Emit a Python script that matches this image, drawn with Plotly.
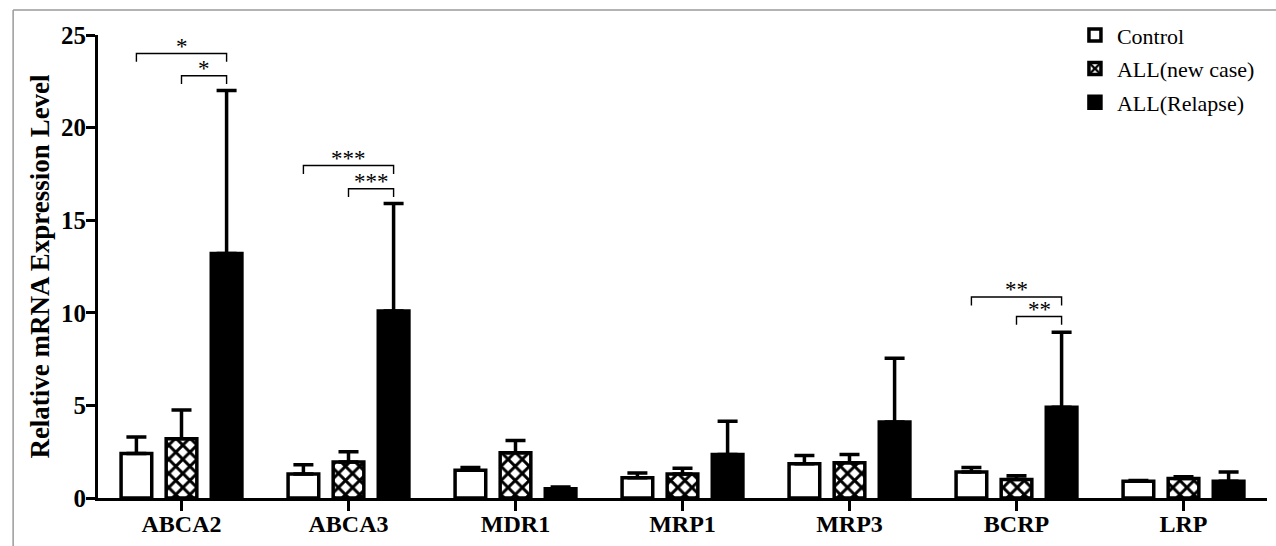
import plotly.graph_objects as go

categories = ["ABCA2", "ABCA3", "MDR1", "MRP1", "MRP3", "BCRP", "LRP"]
series_names = ["Control", "ALL(new case)", "ALL(Relapse)"]
control_mean = [2.4, 1.3, 1.5, 1.1, 1.85, 1.4, 0.9]
newcase_mean = [3.2, 1.95, 2.45, 1.3, 1.9, 1.0, 1.05]
relapse_mean = [13.2, 10.1, 0.5, 2.35, 4.1, 4.9, 0.9]
control_sd = [0.9, 0.5, 0.15, 0.25, 0.45, 0.25, 0.05]
newcase_sd = [1.55, 0.55, 0.65, 0.3, 0.45, 0.2, 0.1]
relapse_sd = [8.8, 5.8, 0.1, 1.8, 3.45, 4.05, 0.5]
y_ticks = [0, 5, 10, 15, 20, 25]

# significance comparisons: category index, group from, group to, bracket level, label
sig_cat = [0, 0, 1, 1, 5, 5]
sig_from = [0, 1, 0, 1, 0, 1]
sig_to = [2, 2, 2, 2, 2, 2]
sig_level = [24.0, 22.8, 17.95, 16.7, 10.85, 9.8]
sig_label = ["*", "*", "***", "***", "**", "**"]

FONT = "Liberation Serif"
BARGAP = 0.19
slot = (1 - BARGAP) / 3
offsets = [-slot, 0, slot]

x = list(range(len(categories)))
fig = go.Figure()

styles = [
    dict(color="white", pattern=None),
    dict(color="white", pattern=dict(shape="x", size=10, solidity=0.5, fgcolor="black",
                                     bgcolor="white", fgopacity=1)),
    dict(color="black", pattern=None),
]
means = [control_mean, newcase_mean, relapse_mean]
sds = [control_sd, newcase_sd, relapse_sd]

for i, name in enumerate(series_names):
    marker = dict(color=styles[i]["color"], line=dict(color="black", width=3.5))
    if styles[i]["pattern"]:
        marker["pattern"] = styles[i]["pattern"]
    fig.add_trace(go.Bar(
        x=x, y=means[i], name=name, marker=marker, legendgroup=name,
        error_y=dict(type="data", array=sds[i], arrayminus=[0] * len(x), symmetric=False,
                     thickness=3.5, width=10, color="black"),
    ))

shapes = []
annotations = []
for c, f, t, lvl, lab in zip(sig_cat, sig_from, sig_to, sig_level, sig_label):
    x0 = c + offsets[f]
    x1 = c + offsets[t]
    drop = 0.45
    shapes.append(dict(type="path", xref="x", yref="y",
                       path=f"M {x0} {lvl - drop} L {x0} {lvl} L {x1} {lvl} L {x1} {lvl - drop}",
                       line=dict(color="black", width=1.4)))
    annotations.append(dict(x=(x0 + x1) / 2, y=lvl, xref="x", yref="y", text=lab, showarrow=False,
                            yanchor="bottom", font=dict(family=FONT, size=23, color="black"), yshift=-7))

# gray frame lines (figure border)
shapes.append(dict(type="line", xref="paper", yref="paper", x0=-0.0726, x1=1.1, y0=1.054, y1=1.054,
                   line=dict(color="#9a9a9a", width=1.5)))
shapes.append(dict(type="line", xref="paper", yref="paper", x0=-0.0726, x1=-0.0726, y0=1.054, y1=-0.2,
                   line=dict(color="#9a9a9a", width=1.5)))

fig.update_layout(
    width=1276, height=546,
    margin=dict(l=98, r=9, t=35, b=48, autoexpand=False),
    paper_bgcolor="white", plot_bgcolor="white",
    barmode="group", bargap=BARGAP, bargroupgap=0.32,
    font=dict(family=FONT, color="black"),
    shapes=shapes, annotations=annotations,
    legend=dict(x=0.834, y=1.045, xanchor="left", yanchor="top", bgcolor="rgba(0,0,0,0)",
                font=dict(family=FONT, size=22, color="black"), tracegroupgap=2,
                traceorder="grouped", itemwidth=34),
    xaxis=dict(range=[-0.5, 6.5], tickvals=x, ticktext=categories, showline=True, linecolor="black",
               linewidth=3, ticks="outside", ticklen=10, tickwidth=3, tickcolor="black",
               ticklabelstandoff=-8, automargin=False,
               tickfont=dict(family=FONT, size=24, weight="bold", color="black"),
               showgrid=False, zeroline=False, fixedrange=True),
    yaxis=dict(range=[0, 25], tickvals=y_ticks, showline=True, linecolor="black", linewidth=3,
               ticks="outside", ticklen=9, tickwidth=3, tickcolor="black", automargin=False,
               ticklabelstandoff=-5,
               tickfont=dict(family=FONT, size=25, weight="bold", color="black"),
               title=dict(text="Relative mRNA Expression Level", standoff=4,
                          font=dict(family=FONT, size=27, weight="bold", color="black")),
               showgrid=False, zeroline=False, fixedrange=True),
)

fig.write_html("out.html", config={"displayModeBar": False},
               post_script="document.body.style.margin='0';")
